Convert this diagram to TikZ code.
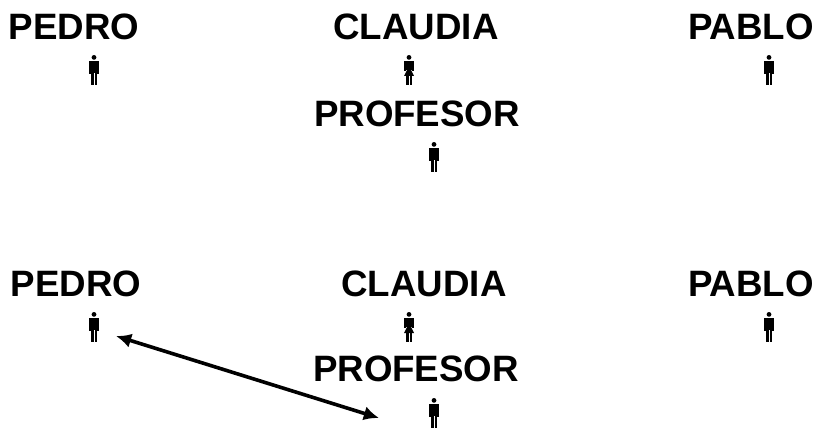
\documentclass[tikz,border=0pt]{standalone}
\usepackage{fontspec}
\usetikzlibrary{arrows.meta}
\setmainfont{Liberation Sans}
\tikzset{
	namelabel/.style={font=\fontsize{26.1}{28}\selectfont\bfseries,inner sep=0pt},
	manfig/.pic={
		\fill (0,-12.6) circle (2.4);
		\fill (-5,-9) rectangle (-3.4,4);
		\fill (3.4,-9) rectangle (5,4);
		\fill (-3.4,-9) rectangle (3.4,3);
		\fill (-3,3) rectangle (-0.5,15);
		\fill (0.5,3) rectangle (3,15);
	},
	womanfig/.pic={
		\fill (0,-12.6) circle (2.4);
		\fill (-5,-9) rectangle (-3.4,1);
		\fill (3.4,-9) rectangle (5,1);
		\fill (-3.4,-9) rectangle (3.4,0);
		\fill (-2,0) -- (2,0) -- (5,6) -- (-5,6) -- cycle;
		\fill (-3,6) rectangle (-0.5,15);
		\fill (0.5,6) rectangle (3,15);
	}
}
\begin{document}
\begin{tikzpicture}[x=0.025cm,y=-0.025cm]
	\useasboundingbox (0,0) rectangle (820,427);
	% top group
	\node[namelabel] (pedroA) at (74,27) {PEDRO};
	\node[namelabel] (claudiaA) at (416,27) {CLAUDIA};
	\node[namelabel] (pabloA) at (751,27) {PABLO};
	\node[namelabel] (profesorA) at (417,114) {PROFESOR};
	\pic at (94,70) {manfig};
	\pic at (409,70) {womanfig};
	\pic at (769,70) {manfig};
	\pic at (434,157) {manfig};
	% bottom group
	\node[namelabel] (pedroB) at (76,284) {PEDRO};
	\node[namelabel] (claudiaB) at (424,284) {CLAUDIA};
	\node[namelabel] (pabloB) at (751,284) {PABLO};
	\node[namelabel] (profesorB) at (416,369) {PROFESOR};
	\pic at (94,327) {manfig};
	\pic at (409,327) {womanfig};
	\pic at (769,327) {manfig};
	\pic at (434,413) {manfig};
	% arrow
	\coordinate (arrowpedro) at (116,336);
	\coordinate (arrowprofesor) at (379,418);
	\draw[line width=0.09cm,{Latex[length=0.38cm,width=0.36cm]}-{Latex[length=0.38cm,width=0.36cm]}] (arrowpedro) -- (arrowprofesor);
\end{tikzpicture}
\end{document}
